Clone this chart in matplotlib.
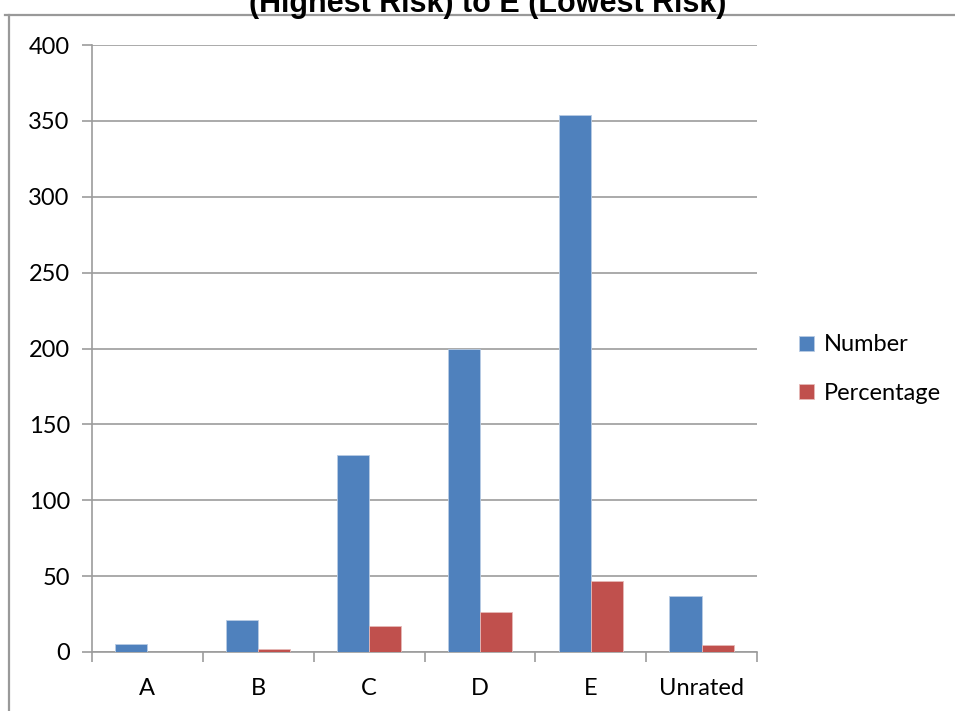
import matplotlib.pyplot as plt
from matplotlib.lines import Line2D
import numpy as np

# values
categories = ['A', 'B', 'C', 'D', 'E', 'Unrated']
number = [5, 21, 130, 200, 354, 37]
percentage = [0, 2, 17, 26.5, 47, 4.5]
yticks = [0, 50, 100, 150, 200, 250, 300, 350, 400]
title = "(Highest Risk) to E (Lowest Risk)"

plt.rcParams['font.family'] = ['Lato', 'DejaVu Sans']

fig = plt.figure(figsize=(9.55, 7.11), dpi=100)
W, H = 955, 711
ax = fig.add_axes([92 / W, (H - 652) / H, (757 - 92) / W, (652 - 45) / H])

x = np.arange(len(categories))
w = 0.29
ax.bar(x - w / 2, number, w, color='#4F81BD', edgecolor='#b8cce4', linewidth=0.6,
       label='Number', zorder=3)
ax.bar(x + w / 2, percentage, w, color='#C0504D', edgecolor='#e6b9b8', linewidth=0.6,
       label='Percentage', zorder=3)

ax.set_xlim(-0.5, len(categories) - 0.5)
ax.set_ylim(0, 400)
ax.set_yticks(yticks)
ax.set_xticks(x)
ax.set_xticklabels(categories)
ax.set_xticks(np.arange(-0.5, len(categories)), minor=True)

grey = '#9c9c9c'
ax.yaxis.grid(True, color=grey, linewidth=1.2, zorder=0)
for s in ['top', 'right']:
    ax.spines[s].set_visible(False)
for s in ['left', 'bottom']:
    ax.spines[s].set_color(grey)
    ax.spines[s].set_linewidth(1.2)

ax.tick_params(axis='y', length=7, width=1.2, color=grey, pad=9, labelsize=17)
ax.tick_params(axis='x', which='major', length=0, pad=19, labelsize=17)
ax.tick_params(axis='x', which='minor', length=7, width=1.2, color=grey)

fig.legend(loc='center left', bbox_to_anchor=(790 / W, 1 - 369 / H), frameon=False,
           fontsize=17, handlelength=0.6, handleheight=0.6, handletextpad=0.45,
           labelspacing=1.15, borderaxespad=0)

# title (its first line falls off the top of the picture)
fig.text(488 / W, 1 - 12 / H, title, ha='center', va='baseline', fontsize=22,
         fontweight='bold', family='Liberation Sans')

# chart area border
fig.add_artist(Line2D([5 / W, 1], [1 - 15 / H, 1 - 15 / H], color='#999999', linewidth=1.6,
                      transform=fig.transFigure))
fig.add_artist(Line2D([9 / W, 9 / W], [1 - 15 / H, 0], color='#999999', linewidth=1.6,
                      transform=fig.transFigure))

plt.savefig('out.png', dpi=100)
